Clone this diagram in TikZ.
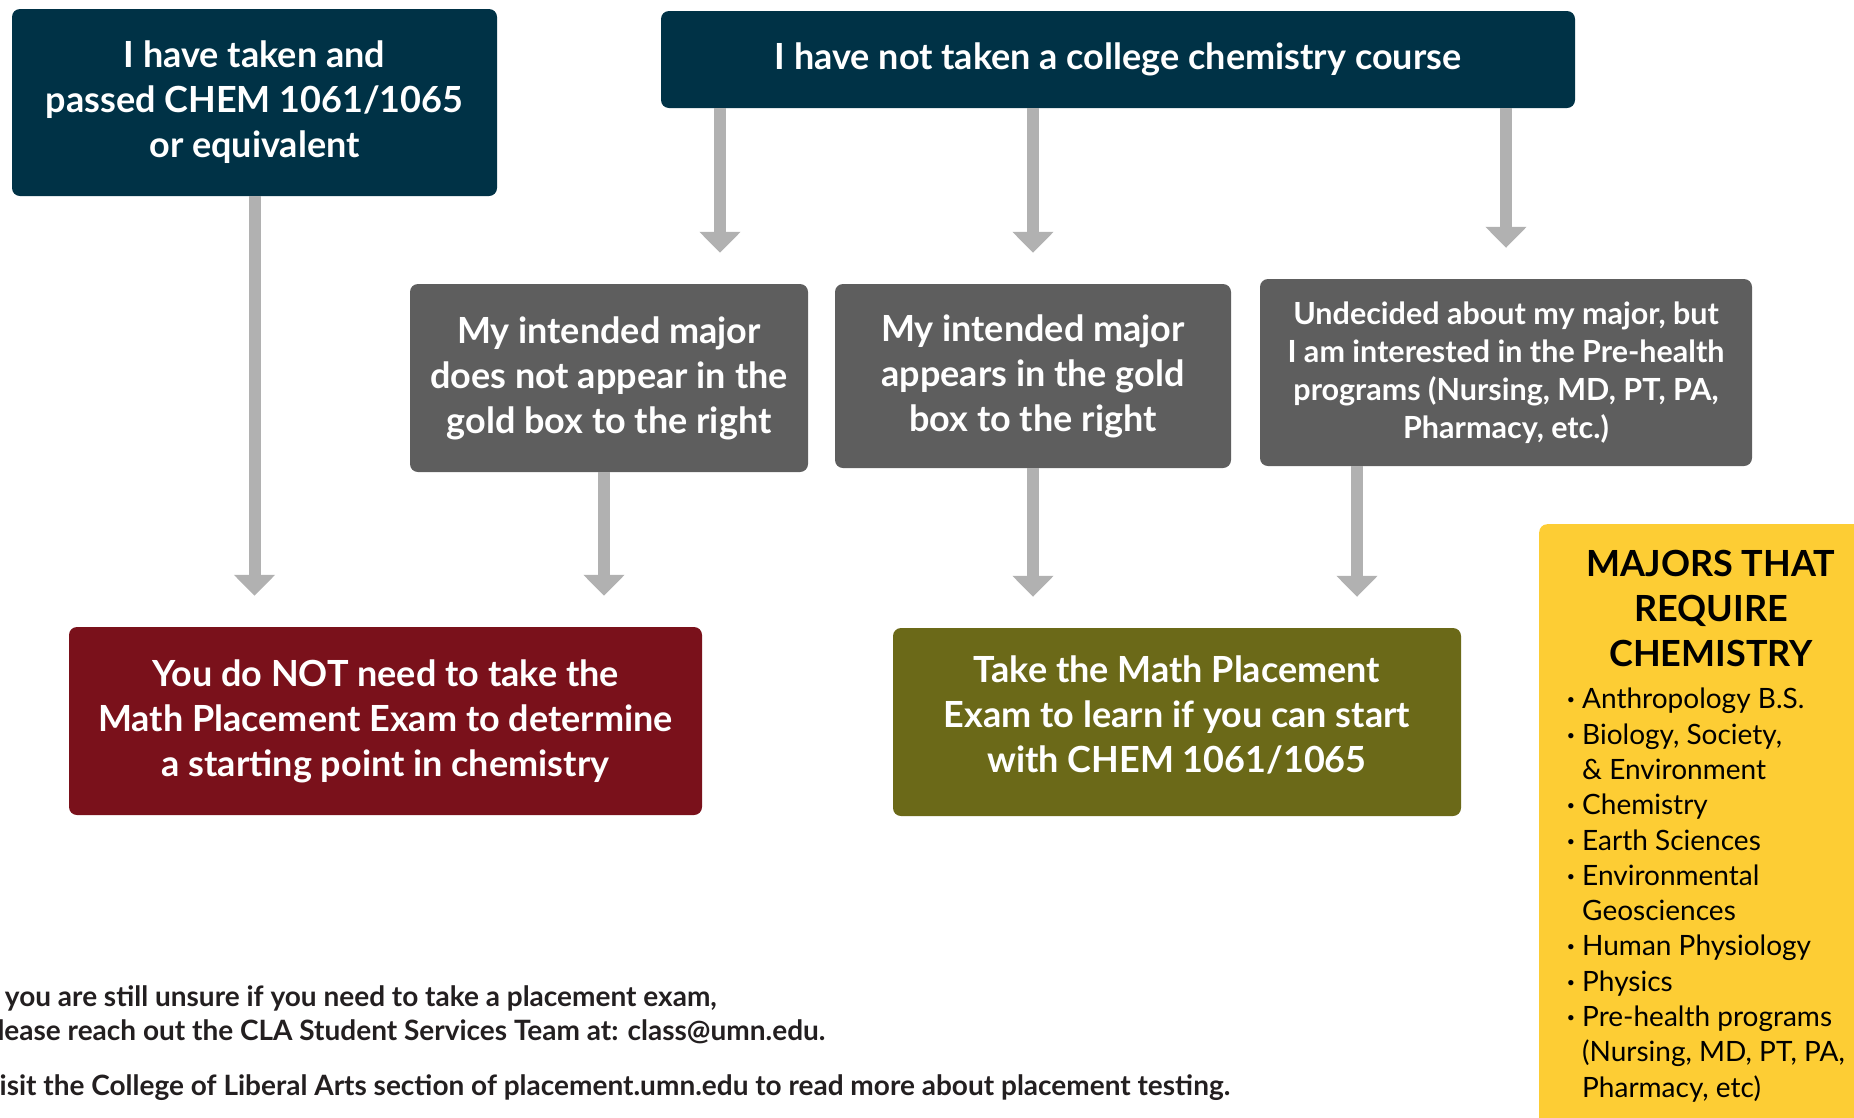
\documentclass[tikz,border=0pt]{standalone}
\usepackage{fontspec}
\setmainfont{Lato}
\usetikzlibrary{arrows.meta}

\definecolor{umnnavy}{HTML}{003246}
\definecolor{boxgray}{HTML}{5E5E5E}
\definecolor{arrowgray}{HTML}{B1B1B1}
\definecolor{umnred}{HTML}{7A111B}
\definecolor{umnolive}{HTML}{6B6918}
\definecolor{umngold}{HTML}{FDCD34}
\definecolor{inkblack}{HTML}{231F20}

\newcommand\majbul{\makebox[15pt][l]{\bfseries\textperiodcentered}}

\tikzset{
  box/.style={rounded corners=8pt, inner sep=0pt, text=white, align=center,
    font=\fontsize{36}{45}\selectfont\bfseries},
  smallbox/.style={box, font=\fontsize{30.5}{38}\selectfont\bfseries},
  flow/.style={draw=arrowgray, line width=12pt,
    -{Triangle[width=40pt,length=21pt]}, shorten >=31pt},
  note/.style={anchor=north west, inner sep=0pt, align=left, text=inkblack,
    font=\fontsize{28}{34}\selectfont\bfseries},
}

\begin{document}
\begin{tikzpicture}[x=1pt,y=-1pt]
    \useasboundingbox (0,0) rectangle (1854,1117);
    \clip (0,0) rectangle (1854,1117);

    % starting points
    \node at (254.5,102.5) [box, fill=umnnavy, minimum width=485pt, minimum height=187pt] (taken)
        {I have taken and\\passed CHEM 1061/1065\\or equivalent};
    \node at (1118,59.5) [box, fill=umnnavy, minimum width=914pt, minimum height=97pt] (nottaken)
        {I have not taken a college chemistry course};

    % majors
    \node at (609,378) [box, fill=boxgray, minimum width=398pt, minimum height=188pt] (notin)
        {My intended major\\does not appear in the\\gold box to the right};
    \node at (1033,376) [box, fill=boxgray, minimum width=396pt, minimum height=184pt] (inbox)
        {My intended major\\appears in the gold\\box to the right};
    \node at (1506,372.5) [smallbox, fill=boxgray, minimum width=492pt, minimum height=187pt] (undecided)
        {Undecided about my major, but\\I am interested in the Pre-health\\programs (Nursing, MD, PT, PA,\\Pharmacy, etc.)};

    % outcomes
    \node at (385.5,721) [box, fill=umnred, minimum width=633pt, minimum height=188pt] (noexam)
        {You do NOT need to take the\\Math Placement Exam to determine\\a starting point in chemistry};
    \node at (1177,722) [box, fill=umnolive, minimum width=568pt, minimum height=188pt, text depth=15pt] (exam)
        {Take the Math Placement\\Exam to learn if you can start\\with CHEM 1061/1065};

    \draw[flow] (taken.south) -- (taken.south |- noexam.north);
    \draw[flow] ([xshift=111pt]notin.north |- nottaken.south) -- ([xshift=111pt]notin.north);
    \draw[flow] (inbox.north |- nottaken.south) -- (inbox.north);
    \draw[flow] (undecided.north |- nottaken.south) -- (undecided.north);
    \draw[flow] ([xshift=-5pt]notin.south) -- ([xshift=-5pt]notin.south |- noexam.north);
    \draw[flow] (inbox.south) -- (inbox.south |- exam.north);
    \draw[flow] ([xshift=-149pt]undecided.south) -- ([xshift=-149pt]undecided.south |- exam.north);

    % gold box
    \node at (1539,524) [anchor=north west, fill=umngold, rounded corners=8pt, minimum width=340pt, minimum height=620pt] (majors) {};
    \node at (1711,608) [align=center, inner sep=0pt, text=black, font=\fontsize{36}{45}\selectfont\bfseries] (majhead)
        {MAJORS THAT\\REQUIRE\\CHEMISTRY};
    \node at (1567,688) [anchor=north west, inner sep=0pt, align=left, text=black, font=\fontsize{28}{35.3}\selectfont] (majlist)
        {\majbul Anthropology B.S.\\
         \majbul Biology, Society,\\
         \phantom{\majbul}\& Environment\\
         \majbul Chemistry\\
         \majbul Earth Sciences\\
         \majbul Environmental\\
         \phantom{\majbul}Geosciences\\
         \majbul Human Physiology\\
         \majbul Physics\\
         \majbul Pre-health programs\\
         \phantom{\majbul}(Nursing, MD, PT, PA,\\
         \phantom{\majbul}Pharmacy, etc)};

    % notes
    \node at (-20,985) [note] (unsure)
        {If you are still unsure if you need to take a placement exam,\\Please reach out the CLA Student Services Team at: class@umn.edu.};
    \node at (-20,1074) [note] (visit)
        {Visit the College of Liberal Arts section of placement.umn.edu to read more about placement testing.};
\end{tikzpicture}
\end{document}
